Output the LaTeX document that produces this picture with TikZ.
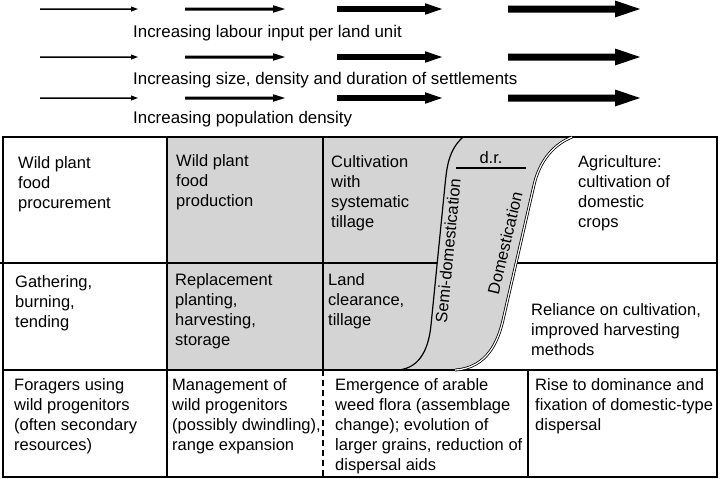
\documentclass[tikz,border=0pt]{standalone}
\usepackage{fontspec}
\setmainfont{Liberation Sans}
\definecolor{cellgray}{RGB}{212,212,212}
\newcommand{\celltext}[1]{\begin{tabular}[t]{@{}l@{}}#1\end{tabular}}
\begin{document}
\begin{tikzpicture}[x=1pt,y=-1pt,
  txt/.style={anchor=base west, inner sep=0pt, font=\fontsize{16.5}{20}\selectfont},
  toptxt/.style={anchor=base west, inner sep=0pt, font=\fontsize{16.9}{20}\selectfont},
  rtxt/.style={anchor=center, inner sep=0pt, font=\fontsize{16.5}{20}\selectfont},
  gridline/.style={line width=1.4pt},
  outerline/.style={line width=1.8pt},
  curveline/.style={line width=1.2pt},
  dblcurve/.style={line width=0.8pt, double=white, double distance=1.2pt}]
\useasboundingbox (0,0) rectangle (720,479);

% arrows
\foreach \yy in {9,57,98} {
  \foreach \xa/\xb/\h/\L/\H in {40/138/0.75/7/2.6, 185/285/1.5/12/3.8, 337/442/2.8/17/5.8, 508/640/3.5/25/8.5} {
    \fill (\xa,\yy-\h) -- (\xb-\L,\yy-\h) -- (\xb-\L,\yy-\H) -- (\xb,\yy) -- (\xb-\L,\yy+\H) -- (\xb-\L,\yy+\h) -- (\xa,\yy+\h) -- cycle;
  }
}
\node[toptxt] (t1) at (133,37) {Increasing labour input per land unit};
\node[toptxt] (t2) at (133,84) {Increasing size, density and duration of settlements};
\node[toptxt] (t3) at (133,123) {Increasing population density};

% gray region
\fill[cellgray] (167,137) -- (572,137) .. controls (550,146) and (538.6,165) .. (534,185) -- (503,320) .. controls (498.4,340) and (488,368) .. (455,370) -- (167,370) -- cycle;

% table lines
\draw[gridline] (167,137) -- (167,477);
\draw[gridline] (323,137) -- (323,370);
\draw[gridline, dash pattern=on 6pt off 4pt] (323,370) -- (323,477);
\draw[gridline] (528,370) -- (528,477);
\draw[gridline] (3,370) -- (717,370);
\draw[gridline] (0,263) -- (437,263);
\draw[gridline] (517,263) -- (717,263);
\draw[outerline] (3,137) rectangle (717,477);

% curves
\draw[curveline] (463,137) .. controls (449,150) and (447,165) .. (445,185) -- (431,325) .. controls (429,345) and (422,368) .. (398,370);
\draw[dblcurve] (572,137) .. controls (550,146) and (538.6,165) .. (534,185) -- (503,320) .. controls (498.4,340) and (488,368) .. (455,370);
\draw[line width=1.2pt] (456,168) -- (526,168);
\node[txt, anchor=base] (dr) at (491,163) {d.r.};
\node[rtxt, rotate=84.5] (semi) at (448,251) {Semi-domestication};
\node[rtxt, rotate=76.6] (dom) at (505,243) {Domestication};

% row 1
\node[txt] (a1) at (18,168) {\celltext{Wild plant\\food\\procurement}};
\node[txt] (b1) at (176,166) {\celltext{Wild plant\\food\\production}};
\node[txt] (c1) at (331,167) {\celltext{Cultivation\\with\\systematic\\tillage}};
\node[txt] (d1) at (578,167) {\celltext{Agriculture:\\cultivation of\\domestic\\crops}};
% row 2
\node[txt] (a2) at (15,287) {\celltext{Gathering,\\burning,\\tending}};
\node[txt] (b2) at (175,285) {\celltext{Replacement\\planting,\\harvesting,\\storage}};
\node[txt] (c2) at (328,285) {\celltext{Land\\clearance,\\tillage}};
\node[txt] (d2) at (531,315) {\celltext{Reliance on cultivation,\\improved harvesting\\methods}};
% row 3
\node[txt] (a3) at (14,390) {\celltext{Foragers using\\wild progenitors\\(often secondary\\resources)}};
\node[txt] (b3) at (172,390) {\celltext{Management of\\wild progenitors\\(possibly dwindling),\\range expansion}};
\node[txt] (c3) at (335,390) {\celltext{Emergence of arable\\weed flora (assemblage\\change); evolution of\\larger grains, reduction of\\dispersal aids}};
\node[txt] (d3) at (535,390) {\celltext{Rise to dominance and\\fixation of domestic-type\\dispersal}};
\end{tikzpicture}
\end{document}
